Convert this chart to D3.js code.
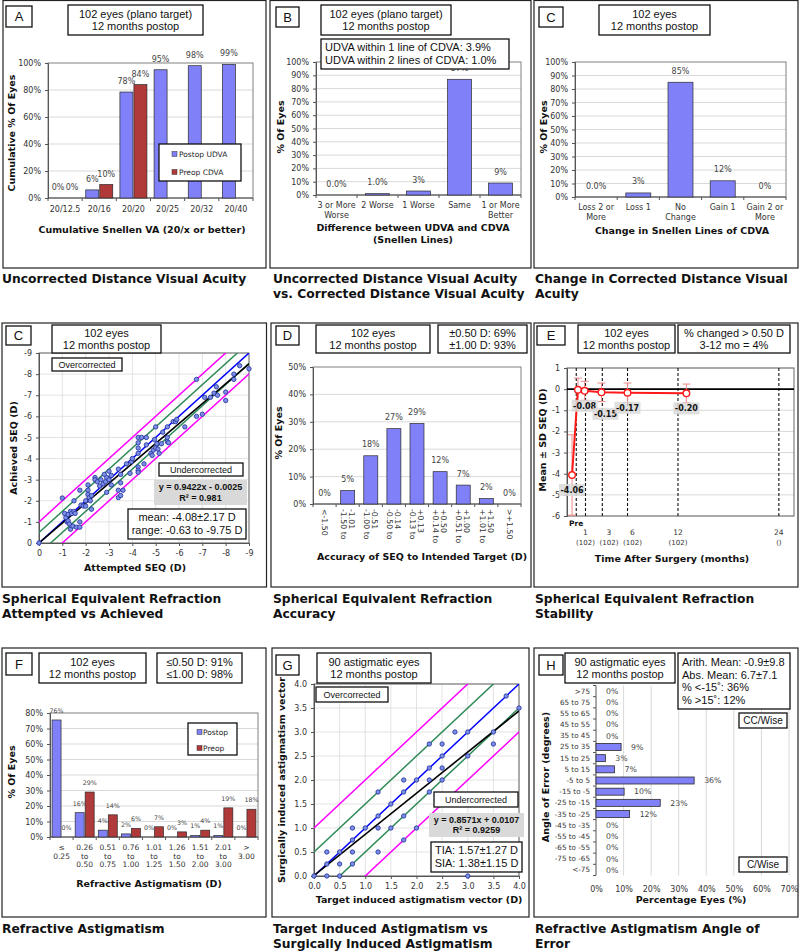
<!DOCTYPE html>
<html><head><meta charset="utf-8">
<script src="https://cdn.jsdelivr.net/npm/d3@7"></script>
<style>body{margin:0;background:#fff}svg{display:block}</style>
</head><body>
<svg id="c" width="800" height="951"></svg>
<script>
// ================= DATA =================
// A: cumulative Snellen UDVA / CDVA
const aCats = ["20/12.5","20/16","20/20","20/25","20/32","20/40"];
const aPostop = [0,6,78.5,95,98,99];
const aPreop  = [0,10,84,null,null,null];
const aPostopLabels = ["0%","6%","78%","95%","98%","99%"];
const aPreopLabels  = ["0%","10%","84%",null,null,null];
const aTicks = [0,20,40,60,80,100];
// B: UDVA vs CDVA
const bCats = [["3 or More","Worse"],["2 Worse"],["1 Worse"],["Same"],["1 or More","Better"]];
const bValues = [0,1,3,87,9];
const bLabels = ["0.0%","1.0%","3%","87%","9%"];
const tenTicks = [0,10,20,30,40,50,60,70,80,90,100];
// C: change in CDVA
const cCats = [["Loss 2 or","More"],["Loss 1"],["No","Change"],["Gain 1"],["Gain 2 or","More"]];
const cValues = [0,3,85,12,0];
const cLabels = ["0.0%","3%","85%","12%","0%"];
// C (row 2): attempted vs achieved SEQ  [attempted, achieved]
const seqPoints = [
 [0,0],[-1,-2.13],[-1.1,-1.4],[-1.15,-1.2],[-1.2,-1.0],[-1.25,-1.35],[-1.25,-1.05],[-1.3,-0.9],[-1.35,-1.5],
 [-1.35,-0.65],[-1.4,-1.4],[-1.45,-0.8],[-1.5,-1.5],[-1.5,-2.0],[-1.55,-1.4],[-1.6,-0.75],[-1.75,-2.5],
 [-1.75,-1.0],[-1.75,-0.75],[-1.8,-1.8],[-1.9,-1.75],[-2.0,-2.0],[-2.0,-1.75],[-2.1,-2.75],[-2.1,-2.5],
 [-2.1,-2.3],[-2.15,-2.15],[-2.2,-2.0],[-2.25,-1.6],[-2.25,-2.25],[-2.4,-3.1],[-2.4,-3.0],[-2.5,-2.9],
 [-2.6,-2.7],[-2.65,-3.0],[-2.75,-2.8],[-2.8,-3.25],[-2.85,-2.9],[-2.9,-2.4],[-2.9,-3.1],[-3.0,-3.4],
 [-3.0,-3.0],[-3.1,-3.2],[-3.1,-2.75],[-3.4,-3.5],[-3.4,-2.5],[-3.4,-2.15],[-3.5,-3.25],[-3.5,-2.85],
 [-3.5,-2.25],[-3.6,-2.5],[-3.75,-3.75],[-3.9,-3.3],[-3.95,-3.85],[-4.0,-4.0],[-4.25,-4.25],[-4.25,-4.5],
 [-4.25,-5.0],[-4.25,-4.75],[-4.25,-3.6],[-4.25,-3.45],[-4.25,-3.35],[-4.4,-5.0],[-4.5,-3.75],[-4.6,-5.0],
 [-4.6,-4.65],[-4.8,-4.25],[-4.85,-4.15],[-4.9,-4.4],[-4.95,-4.9],[-5.0,-5.5],[-5.0,-4.5],[-5.05,-4.7],
 [-5.1,-4.45],[-5.15,-4.25],[-5.25,-4.7],[-5.3,-5.25],[-5.5,-4.8],[-5.5,-5.5],[-5.5,-5.0],[-5.55,-4.75],
 [-5.75,-5.75],[-5.85,-5.75],[-5.9,-5.85],[-6.25,-5.5],[-6.75,-7.75],[-6.75,-6.0],[-7.0,-6.1],[-7.1,-6.9],
 [-7.35,-6.9],[-7.5,-7.1],[-7.6,-7.4],[-7.65,-7.0],[-8.0,-7.15],[-8.0,-6.75],[-8.35,-7.75],[-8.35,-8.0],
 [-8.6,-8.4],[-9.0,-8.25]
];
const seqTicks = [0,-1,-2,-3,-4,-5,-6,-7,-8,-9];
const seqRegression = {slope:0.9422, intercept:-0.0025};
const seqRefOffsets = [-1,-0.5,0,0.5,1];
// D: SEQ accuracy
const dCats = [["<-1.50"],["-1.50 to","-1.01"],["-1.00 to","-0.51"],["-0.50 to","-0.14"],["-0.13 to","+0.13"],
  ["+0.14 to","+0.50"],["+0.51 to","+1.00"],["+1.01 to","+1.50"],[">+1.50"]];
const dValues = [0,4.9,17.6,27.5,29.4,11.8,6.9,2.0,0];
const dLabels = ["0%","5%","18%","27%","29%","12%","7%","2%","0%"];
const dTicks = [0,10,20,30,40,50];
// E: stability
const eMonths = [-0.6,0.1,0.9,2.9,6,13];
const eMeans  = [-4.06,-0.03,-0.08,-0.15,-0.17,-0.20];
const eSD     = [1.9,0.55,0.45,0.44,0.46,0.44];
const eLabels = ["-4.06",null,"-0.08","-0.15","-0.17","-0.20"];
const eVisits = [-0.1,1,3,6,12,24];
const eVisitLabels = ["Pre","1","3","6","12","24"];
const eCounts = ["","(102)","(102)","(102)","(102)","()"];
const eTicks = [1,0,-1,-2,-3,-4,-5,-6];
// F: refractive astigmatism
const fCats = [["≤","0.25"],["0.26","to","0.50"],["0.51","to","0.75"],["0.76","to","1.00"],["1.01","to","1.25"],
  ["1.26","to","1.50"],["1.51","to","2.00"],["2.01","to","3.00"],[">","3.00"]];
const fPostop = [75.5,15.7,4.4,2.0,0,0,1.0,1.0,0];
const fPreop  = [0,29,14.3,5.6,6.6,3.3,4.4,18.8,17.9];
const fPostopLabels = ["76%","16%","4%","2%","0%","0%","1%","1%","0%"];
const fPreopLabels  = ["0%","29%","14%","6%","7%","3%","4%","19%","18%"];
const fTicks = [0,10,20,30,40,50,60,70,80];
// G: TIA vs SIA  [TIA, SIA]
const tiaPoints = [
 [0,0],[0.25,0.5],[0.25,0.25],[0.25,0],[0.5,0.5],[0.5,0.25],[0.5,0],[0.75,1.0],[0.75,0.75],[0.75,0.5],
 [0.75,0.25],[1.0,1.0],[1.25,1.75],[1.25,1.25],[1.25,1.0],[1.25,0.5],[1.5,1.5],[1.5,1.0],[1.75,2.0],
 [1.75,1.75],[1.75,1.25],[1.75,0.75],[2.0,2.0],[2.0,1.0],[2.25,2.75],[2.25,2.25],[2.25,2.0],[2.25,1.75],
 [2.5,2.75],[2.5,2.5],[2.5,2.25],[2.5,2.0],[2.75,3.0],[3.0,3.0],[3.0,2.5],[3.0,0],[3.5,3.0],[3.5,2.75],
 [3.75,3.75],[4.0,3.5]
];
const tiaTicks = [0,0.5,1,1.5,2,2.5,3,3.5,4];
const tiaRegression = {slope:0.8571, intercept:0.0107};
const tiaRefOffsets = [-1,-0.5,0,0.5,1];
// H: angle of error
const hCats = [">75","65 to 75","55 to 65","45 to 55","35 to 45","25 to 35","15 to 25","5 to 15","-5 to 5",
  "-15 to -5","-25 to -15","-35 to -25","-45 to -35","-55 to -45","-65 to -55","-75 to -65","<-75"];
const hValues = [0,0,0,0,0,9.1,3.4,6.7,35.6,10.2,23.3,12.2,0,0,0,0,0];
const hLabels = ["0%","0%","0%","0%","0%","9%","3%","7%","36%","10%","23%","12%","0%","0%","0%","0%","0%"];
const hTicks = [0,10,20,30,40,50,60,70];

// ================= STYLE / HELPERS =================
const SANS='DejaVu Sans', ARIAL='Liberation Sans';
const GRID='#cfcfcf', FRAME='#808080', AXIS='#555';
const BLUE_BAR='#8080f8', RED_BAR='#b0393a', BAR_STROKE='#2b2b2b';
const TICK_FS=8, AXT_FS=9.5;
const svg=d3.select('#c');

function T(g,x,y,s,o={}){
  const t=g.append('text').attr('x',x).attr('y',y).text(s)
    .attr('font-family',o.ff||SANS).attr('font-size',o.fs||TICK_FS)
    .attr('font-weight',o.fw||'normal').attr('fill',o.fill||'#333')
    .attr('text-anchor',o.anchor||'middle');
  if(o.rot) t.attr('transform',`rotate(${o.rot},${x},${y})`);
  return t;
}
function Box(g,x0,y0,x1,y1,lines,o={}){
  g.append('rect').attr('x',x0).attr('y',y0).attr('width',x1-x0).attr('height',y1-y0)
   .attr('fill',o.fill||'#fff').attr('stroke',o.stroke===undefined?'#111':o.stroke)
   .attr('stroke-width',o.sw||1.3);
  const fs=o.fs||11, lh=o.lh||fs*1.13, n=lines.length, cy=(y0+y1)/2;
  lines.forEach((s,i)=>{
    const y=cy+(i-(n-1)/2)*lh+fs*0.36;
    const x=o.anchor==='start'?x0+(o.pad||4):(x0+x1)/2;
    T(g,x,y,s,{ff:o.ff||ARIAL,fs,fw:o.fw,fill:'#111',anchor:o.anchor||'middle'});
  });
}
function styleAxis(a,fs){
  a.select('.domain').attr('stroke',AXIS);
  a.selectAll('.tick line').attr('stroke',AXIS);
  a.selectAll('.tick text').attr('font-family',SANS).attr('font-size',fs||TICK_FS).attr('fill','#333');
}
function axTitle(g,x,y,s,rot){ return T(g,x,y,s,{fw:'bold',fs:AXT_FS,fill:'#111',rot:rot||0}); }
function frameRect(g,x0,y0,x1,y1,c,w){
  g.append('rect').attr('x',x0).attr('y',y0).attr('width',x1-x0).attr('height',y1-y0)
   .attr('fill','none').attr('stroke',c||FRAME).attr('stroke-width',w||1);
}

function barChart(g,o){
  const y=d3.scaleLinear().domain([0,o.yMax]).range([o.y1,o.y0]);
  const x=d3.scaleBand().domain(d3.range(o.cats.length)).range([o.x0,o.x1]);
  g.append('g').selectAll('line').data(o.yTicks.filter(v=>v>0&&v<o.yMax)).join('line')
   .attr('x1',o.x0).attr('x2',o.x1).attr('y1',d=>y(d)).attr('y2',d=>y(d))
   .attr('stroke',GRID).attr('stroke-width',0.8);
  frameRect(g,o.x0,o.y0,o.x1,o.y1);
  const ya=g.append('g').attr('transform',`translate(${o.x0},0)`)
   .call(d3.axisLeft(y).tickValues(o.yTicks).tickFormat(d=>d+'%').tickSize(3).tickPadding(4));
  styleAxis(ya);
  g.append('line').attr('x1',o.x0).attr('x2',o.x1).attr('y1',o.y1).attr('y2',o.y1).attr('stroke',AXIS);
  g.append('g').selectAll('line').data(d3.range(o.cats.length+1)).join('line')
   .attr('x1',i=>o.x0+i*x.step()).attr('x2',i=>o.x0+i*x.step()).attr('y1',o.y1).attr('y2',o.y1+3)
   .attr('stroke',AXIS);
  o.cats.forEach((lines,i)=>{
    const cx=x(i)+x.bandwidth()/2;
    if(o.rotLabels){
      const n=lines.length;
      lines.forEach((s,j)=>{
        const lx=cx+(j-(n-1)/2)*o.labelLH-2.8;
        T(g,lx,o.labelY,s,{fs:o.labelFs||TICK_FS,anchor:'start',rot:90});
      });
    } else {
      lines.forEach((s,j)=>T(g,cx,o.labelY+j*o.labelLH,s,{fs:o.labelFs||TICK_FS}));
    }
  });
  const n=o.series.length, gw=n*o.barW+(n-1)*o.gap;
  o.series.forEach((s,si)=>{
    const bx=i=>x(i)+x.bandwidth()/2-gw/2+si*(o.barW+o.gap);
    const items=s.values.map((v,i)=>({v,i,l:s.labels[i]}));
    g.append('g').selectAll('rect').data(items.filter(d=>d.v!=null&&d.v>0)).join('rect')
     .attr('x',d=>bx(d.i)).attr('y',d=>y(d.v)).attr('width',o.barW).attr('height',d=>o.y1-y(d.v))
     .attr('fill',s.color).attr('stroke',BAR_STROKE).attr('stroke-width',0.7);
    items.filter(d=>d.l!=null).forEach(d=>{
      T(g,bx(d.i)+o.barW/2,y(d.v||0)-o.labelGap,d.l,{fs:o.valFs||TICK_FS,fill:'#444'});
    });
  });
  return {x,y};
}

function scatter(g,o){
  const x=d3.scaleLinear().domain(o.domain).range([o.x0,o.x1]);
  const y=d3.scaleLinear().domain(o.domain).range([o.y1,o.y0]);
  const gr=g.append('g');
  gr.selectAll('line.v').data(o.ticks).join('line').attr('class','v')
   .attr('x1',d=>x(d)).attr('x2',d=>x(d)).attr('y1',o.y0).attr('y2',o.y1).attr('stroke','#dcdcdc').attr('stroke-width',0.8);
  gr.selectAll('line.h').data(o.ticks).join('line').attr('class','h')
   .attr('y1',d=>y(d)).attr('y2',d=>y(d)).attr('x1',o.x0).attr('x2',o.x1).attr('stroke','#dcdcdc').attr('stroke-width',0.8);
  frameRect(g,o.x0,o.y0,o.x1,o.y1,'#666',1);
  const xa=g.append('g').attr('transform',`translate(0,${o.y1})`)
   .call(d3.axisBottom(x).tickValues(o.ticks).tickFormat(o.fmt).tickSize(3).tickPadding(4));
  styleAxis(xa);
  const ya=g.append('g').attr('transform',`translate(${o.x0},0)`)
   .call(d3.axisLeft(y).tickValues(o.ticks).tickFormat(o.fmt).tickSize(3).tickPadding(4));
  styleAxis(ya);
  const cid='clip'+o.id;
  g.append('clipPath').attr('id',cid).append('rect').attr('x',o.x0).attr('y',o.y0)
   .attr('width',o.x1-o.x0).attr('height',o.y1-o.y0);
  const lg=g.append('g').attr('clip-path',`url(#${cid})`);
  const lo=Math.min(...o.domain), hi=Math.max(...o.domain);
  const colorFor=c=>Math.abs(c)===1?'#ff00ff':(Math.abs(c)===0.5?'#2e8b57':'#0000ff');
  o.refOffsets.forEach(c=>{
    const t0=c===0?o.domain[0]:lo-2, t1=c===0?o.domain[1]:hi+2;
    lg.append('line').attr('x1',x(t0)).attr('y1',y(t0+c)).attr('x2',x(t1)).attr('y2',y(t1+c))
      .attr('stroke',colorFor(c)).attr('stroke-width',1.5);
  });
  lg.append('line').attr('x1',x(o.domain[0])).attr('y1',y(o.reg.slope*o.domain[0]+o.reg.intercept))
    .attr('x2',x(o.domain[1])).attr('y2',y(o.reg.slope*o.domain[1]+o.reg.intercept))
    .attr('stroke','#000').attr('stroke-width',1.6);
  g.append('g').selectAll('circle').data(o.points).join('circle')
   .attr('cx',d=>x(d[0])).attr('cy',d=>y(d[1])).attr('r',2.2)
   .attr('fill','#7d8ee6').attr('stroke','#1f2f9a').attr('stroke-width',0.8);
}

// ================= FRAMES & TITLES =================
[[3,0.5,266,268],[270,0.5,531,268],[534,0.5,798,268],
 [2,323,266.5,587],[271,323,531,587],[534,323,798,587],
 [2,648,266,917],[272,648,529,917],[534,648,798,917]]
 .forEach(r=>frameRect(svg,r[0],r[1],r[2],r[3],'#222',1.2));
function secTitle(x,y,lines){ lines.forEach((s,i)=>T(svg,x,y+i*15,s,{fw:'bold',fs:12.3,fill:'#111',anchor:'start'})); }
secTitle(2,283,["Uncorrected Distance Visual Acuity"]);
secTitle(273,283,["Uncorrected Distance Visual Acuity","vs. Corrected Distance Visual Acuity"]);
secTitle(535,283,["Change in Corrected Distance Visual","Acuity"]);
secTitle(2,603,["Spherical Equivalent Refraction","Attempted vs Achieved"]);
secTitle(273,603,["Spherical Equivalent Refraction","Accuracy"]);
secTitle(535,603,["Spherical Equivalent Refraction","Stability"]);
secTitle(2,933,["Refractive Astigmatism"]);
secTitle(273,933,["Target Induced Astigmatism vs","Surgically Induced Astigmatism"]);
secTitle(535,933,["Refractive Astigmatism Angle of","Error"]);

// ================= PANEL A =================
{
  const g=svg.append('g');
  barChart(g,{x0:48,x1:253,y0:63,y1:198,yMax:100,yTicks:aTicks,cats:aCats.map(c=>[c]),
    labelY:212,labelLH:10,barW:13,gap:1,labelGap:8,
    series:[{values:aPostop,labels:aPostopLabels,color:BLUE_BAR},{values:aPreop,labels:aPreopLabels,color:RED_BAR}]});
  Box(g,159,144,241,181,[]);
  [[BLUE_BAR,'Postop UDVA',154],[RED_BAR,'Preop CDVA',172]].forEach(e=>{
    g.append('rect').attr('x',172).attr('y',e[2]-2.5).attr('width',5).attr('height',5).attr('fill',e[0]).attr('stroke','#333').attr('stroke-width',0.5);
    T(g,179,e[2]+2.7,e[1],{anchor:'start',fs:7.5,fill:'#222'});
  });
  axTitle(g,15,133,'Cumulative % Of Eyes',-90);
  axTitle(g,142,233,'Cumulative Snellen VA (20/x or better)');
  Box(g,6,6,32,27,['A'],{fs:13});
  Box(g,68,5,203,35,['102 eyes (plano target)','12 months postop']);
}
// ================= PANEL B =================
{
  const g=svg.append('g');
  barChart(g,{x0:316,x1:521,y0:62,y1:195,yMax:100,yTicks:tenTicks,cats:bCats,
    labelY:208,labelLH:10,barW:24,gap:0,labelGap:8.5,
    series:[{values:bValues,labels:bLabels,color:BLUE_BAR}]});
  axTitle(g,284,127,'% Of Eyes',-90);
  axTitle(g,413,231,'Difference between  UDVA and CDVA');
  axTitle(g,413,243,'(Snellen Lines)');
  Box(g,276,7,299,27,['B'],{fs:13});
  Box(g,321,5,451,35,['102 eyes (plano target)','12 months postop']);
  Box(g,321,39,509,69,['UDVA within 1 line of CDVA: 3.9%','UDVA within 2 lines of CDVA: 1.0%'],{anchor:'start',pad:4,lh:13});
}
// ================= PANEL C =================
{
  const g=svg.append('g');
  barChart(g,{x0:575,x1:786,y0:62,y1:197,yMax:100,yTicks:tenTicks,cats:cCats,
    labelY:210,labelLH:10,barW:25,gap:0,labelGap:8.5,
    series:[{values:cValues,labels:cLabels,color:BLUE_BAR}]});
  axTitle(g,547,127,'% Of Eyes',-90);
  axTitle(g,682,234,'Change in Snellen Lines of CDVA');
  Box(g,539,7,563,27,['C'],{fs:13});
  Box(g,599,5,710,35,['102 eyes','12 months postop']);
}
// ================= PANEL C (row 2) =================
{
  const g=svg.append('g');
  scatter(g,{id:'c2',x0:39,x1:249,y0:353,y1:543,domain:[0,-9],ticks:seqTicks,fmt:d=>d,
    points:seqPoints,refOffsets:seqRefOffsets,reg:seqRegression});
  axTitle(g,17,448,'Achieved SEQ (D)',-90);
  axTitle(g,135,571,'Attempted SEQ (D)');
  Box(g,52,358,122,371,['Overcorrected'],{fs:9});
  Box(g,159,463,243,476,['Undercorrected'],{fs:9});
  Box(g,154,480,247,505,['y = 0.9422x - 0.0025','R² = 0.981'],{fs:9,fw:'bold',fill:'#d9d9d9',stroke:'none',lh:10.5});
  Box(g,128,509,246,539,['mean: -4.08±2.17 D','range: -0.63 to -9.75 D'],{fs:11,lh:13});
  Box(g,6,326,31,345,['C'],{fs:13});
  Box(g,52,325,161,353,['102 eyes','12 months postop'],{lh:12.5});
}
// ================= PANEL D =================
{
  const g=svg.append('g');
  barChart(g,{x0:313,x1:521,y0:367,y1:504,yMax:50,yTicks:dTicks,cats:dCats,
    labelY:509,labelLH:8,labelFs:7.8,rotLabels:true,barW:14,gap:0,labelGap:8.5,
    series:[{values:dValues,labels:dLabels,color:BLUE_BAR}]});
  axTitle(g,282,433,'% Of Eyes',-90);
  axTitle(g,422,560,'Accuracy of SEQ to Intended Target (D)');
  Box(g,276,326,299,345,['D'],{fs:13});
  Box(g,316,325,430,353,['102 eyes','12 months postop'],{lh:12.5});
  Box(g,438,325,527,353,['±0.50 D: 69%','±1.00 D: 93%'],{lh:12.5});
}
// ================= PANEL E =================
{
  const g=svg.append('g');
  const x0=567,x1=794,y0=368,y1=516;
  const x=d3.scaleLinear().domain([-1.2,25.8]).range([x0,x1]);
  const y=d3.scaleLinear().domain([-6,1]).range([y1,y0]);
  g.append('g').selectAll('line').data(eTicks.filter(v=>v!==0)).join('line')
   .attr('x1',x0).attr('x2',x1).attr('y1',d=>y(d)).attr('y2',d=>y(d)).attr('stroke',GRID).attr('stroke-width',0.8);
  frameRect(g,x0,y0,x1,y1,'#666',1);
  const ya=g.append('g').attr('transform',`translate(${x0},0)`)
   .call(d3.axisLeft(y).tickValues(eTicks).tickFormat(d=>d).tickSize(3).tickPadding(4));
  styleAxis(ya);
  g.append('g').selectAll('line').data(eVisits).join('line')
   .attr('x1',d=>x(d)).attr('x2',d=>x(d)).attr('y1',y0).attr('y2',y1)
   .attr('stroke','#111').attr('stroke-width',1.1).attr('stroke-dasharray','3,2');
  g.append('line').attr('x1',x0).attr('x2',x1).attr('y1',y(0)).attr('y2',y(0)).attr('stroke','#000').attr('stroke-width',1.6);
  g.append('clipPath').attr('id','clipE').append('rect').attr('x',x0).attr('y',y0).attr('width',x1-x0).attr('height',y1-y0);
  const cg=g.append('g').attr('clip-path','url(#clipE)');
  eMonths.forEach((m,i)=>{
    const hiV=eMeans[i]+eSD[i], loV=eMeans[i]-eSD[i], cx=x(m);
    cg.append('line').attr('x1',cx).attr('x2',cx).attr('y1',y(hiV)).attr('y2',y(loV)).attr('stroke','#f08a8a').attr('stroke-width',1);
    [hiV,loV].forEach(v=>cg.append('line').attr('x1',cx-4).attr('x2',cx+4).attr('y1',y(v)).attr('y2',y(v)).attr('stroke','#f08a8a').attr('stroke-width',1));
  });
  cg.append('path').datum(eMonths.map((m,i)=>[m,eMeans[i]]))
   .attr('d',d3.line().x(d=>x(d[0])).y(d=>y(d[1]))).attr('fill','none').attr('stroke','#ff1a1a').attr('stroke-width',2);
  g.append('g').selectAll('circle').data(eMonths.map((m,i)=>[m,eMeans[i]])).join('circle')
   .attr('cx',d=>x(d[0])).attr('cy',d=>y(d[1])).attr('r',3.3).attr('fill','#fff').attr('stroke','#ff1a1a').attr('stroke-width',1.4);
  let prevX=-999, prevY=-999;
  eMonths.forEach((m,i)=>{
    if(!eLabels[i]) return;
    let cx=x(m), cy=y(eMeans[i])+15;
    if(Math.abs(cx-prevX)<20 && Math.abs(cy-prevY)<12){ cy=prevY+8; cx+=4; }
    prevX=cx; prevY=cy;
    g.append('rect').attr('x',cx-13).attr('y',cy-6).attr('width',26).attr('height',12).attr('fill','#d9d9d9').attr('opacity',0.85);
    T(g,cx,cy+3,eLabels[i],{fs:8,fw:'bold',fill:'#111'});
  });
  let rightEdge=-999;
  eVisits.forEach((v,i)=>{
    if(i===0){ T(g,x(v),526,eVisitLabels[i],{fs:7.5,fw:'bold',fill:'#111'}); return; }
    const half=eCounts[i].length*2.2+0.5;
    let cx=Math.max(x(v),rightEdge+half+0.5);
    rightEdge=cx+half;
    T(g,cx,534.5,eVisitLabels[i],{fs:7.5});
    T(g,cx,544.5,eCounts[i],{fs:7});
  });
  axTitle(g,546,440,'Mean ± SD SEQ (D)',-90);
  axTitle(g,672,562,'Time After Surgery (months)');
  Box(g,537,326,565,345,['E'],{fs:13});
  Box(g,578,325,675,353,['102 eyes','12 months postop'],{lh:12.5});
  Box(g,678,325,790,353,['% changed > 0.50 D','3-12 mo = 4%'],{lh:12.5});
}
// ================= PANEL F =================
{
  const g=svg.append('g');
  barChart(g,{x0:50,x1:258,y0:713,y1:837,yMax:80,yTicks:fTicks,cats:fCats,
    labelY:850,labelLH:8.5,labelFs:7.5,barW:9,gap:1,labelGap:7,valFs:6.3,
    series:[{values:fPostop,labels:fPostopLabels,color:BLUE_BAR},{values:fPreop,labels:fPreopLabels,color:RED_BAR}]});
  Box(g,188,723,237,755,[]);
  [[BLUE_BAR,'Postop',732],[RED_BAR,'Preop',748]].forEach(e=>{
    g.append('rect').attr('x',197).attr('y',e[2]-2.5).attr('width',5).attr('height',5).attr('fill',e[0]).attr('stroke','#333').attr('stroke-width',0.5);
    T(g,203,e[2]+2.7,e[1],{anchor:'start',fs:7.5,fill:'#222'});
  });
  axTitle(g,15,772,'% Of Eyes',-90);
  axTitle(g,149,887,'Refractive Astigmatism (D)');
  Box(g,6,653,32,675,['F'],{fs:13});
  Box(g,39,653,146,683,['102 eyes','12 months postop'],{lh:12.5});
  Box(g,157,653,242,683,['≤0.50 D: 91%','≤1.00 D: 98%'],{lh:12.5});
}
// ================= PANEL G =================
{
  const g=svg.append('g');
  scatter(g,{id:'g',x0:314,x1:519,y0:684,y1:876,domain:[0,4],ticks:tiaTicks,fmt:d3.format('.1f'),
    points:tiaPoints,refOffsets:tiaRefOffsets,reg:tiaRegression});
  axTitle(g,285,780,'Surgically induced astigmatism vector',-90);
  axTitle(g,419,903,'Target induced astigmatism vector (D)');
  Box(g,316,687,388,702,['Overcorrected'],{fs:9});
  Box(g,434,792,518,807,['Undercorrected'],{fs:9});
  Box(g,429,813,524,837,['y = 0.8571x + 0.0107','R² = 0.9259'],{fs:9,fw:'bold',fill:'#d9d9d9',stroke:'none',lh:10.5});
  Box(g,431,842,522,872,['TIA: 1.57±1.27 D','SIA: 1.38±1.15 D'],{fs:11,lh:13});
  Box(g,276,655,299,675,['G'],{fs:13});
  Box(g,317,653,431,683,['90 astigmatic eyes','12 months postop'],{lh:12.5});
}
// ================= PANEL H =================
{
  const g=svg.append('g');
  const x0=596,x1=789,y0=685.5,y1=875.5;
  const x=d3.scaleLinear().domain([0,70]).range([x0,x1]);
  const y=d3.scalePoint().domain(d3.range(hCats.length)).range([y0,y1]).padding(0.5);
  g.append('g').selectAll('line').data(hTicks.filter(v=>v>0)).join('line')
   .attr('x1',d=>x(d)).attr('x2',d=>x(d)).attr('y1',y0).attr('y2',y1).attr('stroke',GRID).attr('stroke-width',0.8);
  g.append('line').attr('x1',x0).attr('x2',x0).attr('y1',y0).attr('y2',y1).attr('stroke',AXIS);
  g.append('g').selectAll('line').data(d3.range(hCats.length+1)).join('line')
   .attr('x1',x0-3).attr('x2',x0).attr('y1',i=>y0+i*y.step()).attr('y2',i=>y0+i*y.step()).attr('stroke',AXIS);
  const xa=g.append('g').attr('transform',`translate(0,${y1})`)
   .call(d3.axisBottom(x).tickValues(hTicks).tickFormat(d=>d+'%').tickSize(0).tickPadding(11));
  styleAxis(xa); xa.select('.domain').remove();
  hCats.forEach((c,i)=>T(g,x0-6,y(i)+2.5,c,{fs:7.2,anchor:'end'}));
  g.append('g').selectAll('rect').data(hValues.map((v,i)=>({v,i})).filter(d=>d.v>0)).join('rect')
   .attr('x',x0).attr('y',d=>y(d.i)-3.5).attr('width',d=>x(d.v)-x0).attr('height',7)
   .attr('fill',BLUE_BAR).attr('stroke',BAR_STROKE).attr('stroke-width',0.8);
  hValues.forEach((v,i)=>T(g,x(v)+10,y(i)+2.8,hLabels[i],{fs:7.8,anchor:'start',fill:'#444'}));
  axTitle(g,549,777,'Angle of Error (degrees)',-90);
  axTitle(g,691,903,'Percentage Eyes (%)');
  Box(g,739,713,787,728,['CC/Wise'],{fs:10});
  Box(g,739,857,787,872,['C/Wise'],{fs:10});
  Box(g,539,655,563,675,['H'],{fs:13});
  Box(g,565,653,675,683,['90 astigmatic eyes','12 months postop'],{lh:12.5});
  Box(g,678,653,790,709,['Arith. Mean: -0.9±9.8','Abs. Mean: 6.7±7.1','% <-15˚: 36%','% >15˚: 12%'],{anchor:'start',pad:4,lh:12.5});
}
</script>
</body></html>
